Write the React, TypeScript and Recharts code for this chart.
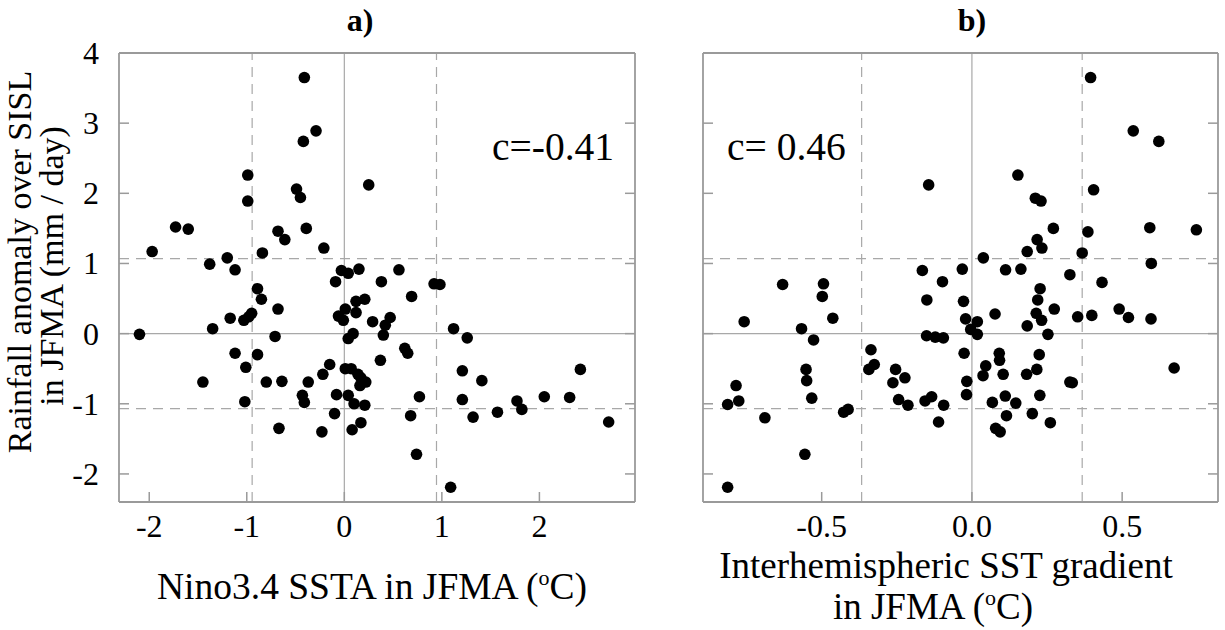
import React from 'react';
import { ScatterChart, Scatter, XAxis, YAxis, ReferenceLine } from 'recharts';

// panel a: Nino3.4 SSTA vs rainfall anomaly
const ninoSsta = [
  -0.41, -0.29, -0.42, -0.99, -0.99, -0.49, -0.45, -1.73, -1.6, -0.68, -0.61, -0.39, -0.21, -1.97, -0.84, -1.38,
  -1.2, -1.12, -0.03, 0.25, 0.15, 0.56, 0.04, -0.09, -0.89, -0.85, -0.68, -1.17, -1.03, -0.98, -0.95, -1.35,
  -2.1, -0.71, -0.06, -0.01, 0.01, 0.04, -1.12, -0.89, -1.01, -1.45, -0.8, -0.64, -0.37, -0.22, -0.15, 0.01,
  -1.02, -0.43, -0.41, -0.08, 0.04, -0.1, -0.67, -0.23, 0.08, 0.38, 0.92, 0.98, 0.69, 0.12, 0.21, 0.12,
  0.29, 0.47, 0.42, 0.4, 0.09, 1.12, 1.26, 0.62, 0.65, 0.37, 0.07, 0.14, 0.17, 0.22, 0.16, 1.21,
  1.41, 2.42, 0.1, 0.21, 0.77, 1.21, 1.77, 2.05, 2.31, 1.82, 1.57, 1.32, 0.68, 0.17, 0.74, 1.09, 2.71,
];
const rainA = [
  3.65, 2.89, 2.74, 2.26, 1.89, 2.06, 1.94, 1.52, 1.49, 1.46, 1.34, 1.5, 1.22, 1.17, 1.15, 0.99,
  1.08, 0.91, 0.9, 2.12, 0.92, 0.91, 0.86, 0.74, 0.64, 0.49, 0.35, 0.22, 0.19, 0.24, 0.29, 0.07,
  -0.01, -0.04, 0.25, 0.19, 0.35, -0.07, -0.28, -0.3, -0.48, -0.69, -0.69, -0.68, -0.69, -0.58, -0.44, -0.5,
  -0.97, -0.88, -0.98, -0.87, -0.88, -1.14, -1.35, -1.4, -1.37, 0.74, 0.71, 0.7, 0.53, 0.46, 0.49, 0.3,
  0.17, 0.23, 0.12, -0.02, 0.0, 0.07, -0.06, -0.21, -0.28, -0.38, -0.5, -0.58, -0.63, -0.69, -0.74, -0.53,
  -0.67, -0.51, -1.0, -1.02, -0.9, -0.94, -0.96, -0.9, -0.91, -1.08, -1.12, -1.19, -1.17, -1.27, -1.72, -2.19, -1.26,
];

// panel b: interhemispheric SST gradient vs rainfall anomaly
const sstGradient = [
  0.395, 0.537, 0.622, -0.144, 0.153, 0.211, 0.23, 0.405, 0.271, 0.386, 0.592, 0.747, 0.217, 0.233, 0.184, 0.038,
  0.367, 0.597, -0.165, -0.032, 0.112, 0.163,
  -0.63, -0.494, -0.498, -0.463, -0.758, -0.567, -0.527, -0.336, -0.343, -0.325, -0.254, -0.263, -0.244, -0.223,
  -0.552, -0.55, -0.533, -0.785, -0.776, -0.813, -0.689, -0.427, -0.412, -0.556, -0.813,
  0.326, 0.433, -0.098, -0.15, -0.028, 0.227, 0.219, 0.274, 0.077, 0.214, 0.232, 0.184, 0.253, 0.352, 0.399, 0.49,
  0.521, 0.596, -0.021, 0.018, -0.004, 0.018, -0.151, -0.122, -0.095, -0.026, 0.091, 0.092, 0.046, 0.037, 0.104, 0.224,
  0.216, 0.182, 0.326, 0.334, -0.017, -0.018, -0.213, -0.156, -0.134, -0.094, -0.111, 0.068, 0.111, 0.146, 0.226, 0.115,
  0.201, 0.261, 0.079, 0.094, 0.673,
];
const rainB = [
  3.65, 2.89, 2.74, 2.12, 2.26, 1.93, 1.89, 2.05, 1.5, 1.45, 1.51, 1.48, 1.34, 1.22, 1.17, 1.08,
  1.15, 1.0, 0.9, 0.92, 0.91, 0.92,
  0.7, 0.71, 0.53, 0.22, 0.17, 0.07, -0.09, -0.23, -0.51, -0.44, -0.51, -0.7, -0.94, -0.63,
  -0.51, -0.67, -0.92, -0.74, -0.96, -1.01, -1.2, -1.12, -1.08, -1.72, -2.19,
  0.84, 0.73, 0.74, 0.48, 0.46, 0.64, 0.48, 0.35, 0.28, 0.29, 0.19, 0.11, -0.01, 0.24, 0.26, 0.35,
  0.23, 0.21, 0.21, 0.17, 0.06, -0.01, -0.03, -0.05, -0.06, -0.28, -0.28, -0.38, -0.46, -0.6, -0.58, -0.3,
  -0.51, -0.58, -0.69, -0.7, -0.68, -0.87, -1.02, -0.96, -0.9, -1.02, -1.26, -0.98, -0.89, -0.99, -0.88, -1.17,
  -1.14, -1.27, -1.35, -1.4, -0.49,
];

const rainTicks = [-2, -1, 0, 1, 2, 3, 4];
const ninoTicks = [-2, -1, 0, 1, 2];
const gradTicks = [-0.5, 0, 0.5];

// one-sigma guide lines
const ninoStd = 0.945;
const gradStd = 0.367;
const rainStd = 1.07;

const dataA = ninoSsta.map((x, i) => ({ x, y: rainA[i] }));
const dataB = sstGradient.map((x, i) => ({ x, y: rainB[i] }));

const FONT = '"Liberation Serif", "Times New Roman", serif';
const FRAME = '#9a9a9a';
const GUIDE = '#a8a8a8';

const bottomTick = (fmt: ((v: number) => string) | null) => (p: any) => (
  <g>
    <line x1={p.x} y1={p.y} x2={p.x} y2={p.y - 10} stroke={FRAME} strokeWidth={1.5} />
    {fmt && (
      <text x={p.x} y={p.y + 35} textAnchor="middle" fontSize={32} fontFamily={FONT} fill="#000">
        {fmt(p.payload.value)}
      </text>
    )}
  </g>
);
const topTick = (p: any) => (
  <line x1={p.x} y1={p.y} x2={p.x} y2={p.y + 10} stroke={FRAME} strokeWidth={1.5} />
);
const leftTick = (withLabel: boolean) => (p: any) => (
  <g>
    <line x1={p.x} y1={p.y} x2={p.x + 10} y2={p.y} stroke={FRAME} strokeWidth={1.5} />
    {withLabel && (
      <text x={p.x - 20} y={p.y + 11} textAnchor="end" fontSize={32} fontFamily={FONT} fill="#000">
        {p.payload.value}
      </text>
    )}
  </g>
);
const rightTick = (p: any) => (
  <line x1={p.x} y1={p.y} x2={p.x - 10} y2={p.y} stroke={FRAME} strokeWidth={1.5} />
);

const dot = (p: any) => <circle cx={p.cx} cy={p.cy} r={5.8} fill="#000" />;

function Panel({ data, xDomain, xTicks, xStd, fmt, yLabels, width, margin }: any) {
  const frame = { stroke: FRAME, strokeWidth: 1.8 };
  return (
    <ScatterChart width={width} height={630} margin={margin}>
      <XAxis type="number" dataKey="x" domain={xDomain} ticks={xTicks} allowDataOverflow interval={0}
        height={40} tickSize={0} tickMargin={0} axisLine={frame} tickLine={false} tick={bottomTick(fmt)} />
      <XAxis xAxisId="top" orientation="top" type="number" domain={xDomain} ticks={xTicks} allowDataOverflow
        interval={0} height={1} tickSize={0} tickMargin={0} axisLine={frame} tickLine={false} tick={topTick} />
      <YAxis type="number" dataKey="y" domain={[-2.4, 4]} ticks={rainTicks} allowDataOverflow interval={0}
        width={yLabels ? 60 : 1} tickSize={0} tickMargin={0} axisLine={frame} tickLine={false} tick={leftTick(yLabels)} />
      <YAxis yAxisId="right" orientation="right" type="number" domain={[-2.4, 4]} ticks={rainTicks} allowDataOverflow
        interval={0} width={1} tickSize={0} tickMargin={0} axisLine={frame} tickLine={false} tick={rightTick} />
      <ReferenceLine x={0} stroke={GUIDE} strokeWidth={1.2} />
      <ReferenceLine y={0} stroke={GUIDE} strokeWidth={1.2} />
      <ReferenceLine x={-xStd} stroke={GUIDE} strokeWidth={1.2} strokeDasharray="10 7" />
      <ReferenceLine x={xStd} stroke={GUIDE} strokeWidth={1.2} strokeDasharray="10 7" />
      <ReferenceLine y={-rainStd} stroke={GUIDE} strokeWidth={1.2} strokeDasharray="10 7" />
      <ReferenceLine y={rainStd} stroke={GUIDE} strokeWidth={1.2} strokeDasharray="10 7" />
      <Scatter data={data} fill="#000" shape={dot} isAnimationActive={false} />
    </ScatterChart>
  );
}

const degC = (
  <>
    (<tspan dy={-14} fontSize={22}>o</tspan>
    <tspan dy={14}>C)</tspan>
  </>
);

export default function App() {
  return (
    <div style={{ position: 'absolute', left: 0, top: 0, width: 1225, height: 630, background: '#fff' }}>
      <div style={{ position: 'absolute', left: 0, top: 0 }}>
        <Panel data={dataA} xDomain={[-2.31, 2.98]} xTicks={ninoTicks} xStd={ninoStd}
          fmt={(v: number) => String(v)} yLabels width={660}
          margin={{ top: 52, right: 24, bottom: 88, left: 59 }} />
      </div>
      <div style={{ position: 'absolute', left: 660, top: 0 }}>
        <Panel data={dataB} xDomain={[-0.895, 0.819]} xTicks={gradTicks} xStd={gradStd}
          fmt={(v: number) => v.toFixed(1)} yLabels={false} width={565}
          margin={{ top: 52, right: 6, bottom: 88, left: 42 }} />
      </div>
      <svg width={1225} height={630} style={{ position: 'absolute', left: 0, top: 0, pointerEvents: 'none' }}
        fontFamily={FONT} fill="#000">
        <text x={360} y={31} textAnchor="middle" fontSize={32} fontWeight="bold">a)</text>
        <text x={972} y={31} textAnchor="middle" fontSize={32} fontWeight="bold">b)</text>
        <text transform="translate(31,262) rotate(-90)" textAnchor="middle" fontSize={34}>
          Rainfall anomaly over SISL
        </text>
        <text transform="translate(63,266) rotate(-90)" textAnchor="middle" fontSize={34}>
          in JFMA (mm / day)
        </text>
        <text x={372} y={599} textAnchor="middle" fontSize={37.5}>Nino3.4 SSTA in JFMA {degC}</text>
        <text x={946} y={578} textAnchor="middle" fontSize={37}>Interhemispheric SST gradient</text>
        <text x={933} y={619} textAnchor="middle" fontSize={37}>in JFMA {degC}</text>
        <text x={492} y={160} fontSize={39.5}>c=-0.41</text>
        <text x={727} y={160} fontSize={39.5}>c= 0.46</text>
      </svg>
    </div>
  );
}
